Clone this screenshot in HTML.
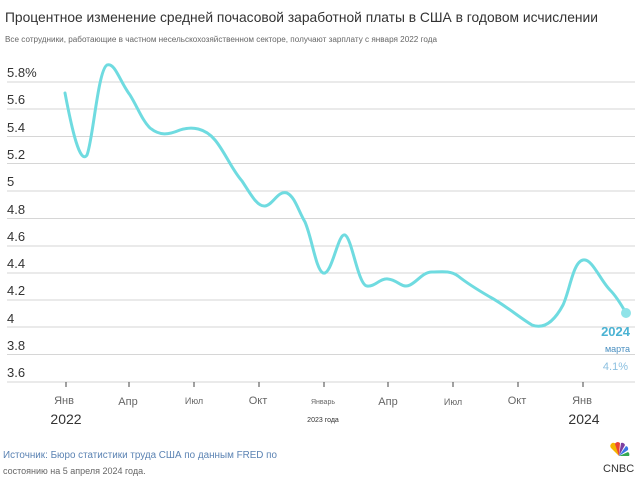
<!DOCTYPE html>
<html><head><meta charset="utf-8"><style>
body{margin:0;background:#fff;width:642px;height:489px;overflow:hidden;font-family:"Liberation Sans","DejaVu Sans",sans-serif}
</style></head><body>
<svg width="642" height="489" xmlns="http://www.w3.org/2000/svg" font-family="Liberation Sans, DejaVu Sans, sans-serif">
<text x="5" y="22" font-size="14" fill="#333" textLength="593" lengthAdjust="spacingAndGlyphs">Процентное изменение средней почасовой заработной платы в США в годовом исчислении</text>
<text x="5" y="42" font-size="8" fill="#666" textLength="432" lengthAdjust="spacingAndGlyphs">Все сотрудники, работающие в частном несельскохозяйственном секторе, получают зарплату с января 2022 года</text>
<g stroke="#d6d6d6" stroke-width="1">
<line x1="7" x2="635" y1="82" y2="82"/><line x1="7" x2="635" y1="109" y2="109"/>
<line x1="7" x2="635" y1="136.5" y2="136.5"/><line x1="7" x2="635" y1="163.5" y2="163.5"/>
<line x1="7" x2="635" y1="191" y2="191"/><line x1="7" x2="635" y1="218.5" y2="218.5"/>
<line x1="7" x2="635" y1="246" y2="246"/><line x1="7" x2="635" y1="273" y2="273"/>
<line x1="7" x2="635" y1="300" y2="300"/><line x1="7" x2="635" y1="327" y2="327"/>
<line x1="7" x2="635" y1="354.5" y2="354.5"/><line x1="7" x2="635" y1="382" y2="382"/>
</g>
<g font-size="13" fill="#333">
<text x="7" y="77">5.8%</text><text x="7" y="104">5.6</text><text x="7" y="132">5.4</text>
<text x="7" y="159">5.2</text><text x="7" y="186">5</text><text x="7" y="214">4.8</text>
<text x="7" y="241">4.6</text><text x="7" y="268">4.4</text><text x="7" y="295">4.2</text>
<text x="7" y="323">4</text><text x="7" y="350">3.8</text><text x="7" y="377">3.6</text>
</g>
<g stroke="#444" stroke-width="1">
<line x1="66" x2="66" y1="382" y2="387"/><line x1="129" x2="129" y1="382" y2="387"/>
<line x1="194" x2="194" y1="382" y2="387"/><line x1="259" x2="259" y1="382" y2="387"/>
<line x1="324" x2="324" y1="382" y2="387"/><line x1="388" x2="388" y1="382" y2="387"/>
<line x1="453" x2="453" y1="382" y2="387"/><line x1="518" x2="518" y1="382" y2="387"/>
<line x1="583" x2="583" y1="382" y2="387"/>
</g>
<g fill="#666" font-size="11" text-anchor="middle">
<text x="64" y="404">Янв</text><text x="128" y="405">Апр</text><text x="194" y="404" font-size="9">Июл</text>
<text x="258" y="404">Окт</text><text x="323" y="404" font-size="7">Январь</text><text x="388" y="405">Апр</text>
<text x="453" y="405" font-size="9">Июл</text><text x="517" y="404">Окт</text><text x="582" y="404">Янв</text>
</g>
<text x="66" y="424" font-size="14" fill="#333" text-anchor="middle">2022</text>
<text x="323" y="422" font-size="7" fill="#333" text-anchor="middle">2023 года</text>
<text x="584" y="424" font-size="14" fill="#333" text-anchor="middle">2024</text>
<path d="M65,93 C72,130 80,165 87,155 C93,140 98,70 107,65 C115,62 120,82 130,95 C138,108 142,120 150,128 C160,136 168,135 180,130 C192,126 205,128 215,140 C225,152 232,170 242,181 C250,193 257,207 265,206 C273,205 278,190 287,193 C295,197 298,210 305,222 C312,238 316,270 323,273 C332,276 338,232 345,235 C352,238 358,285 367,286 C375,287 380,278 388,279 C398,280 402,289 410,285 C418,281 423,272 432,272 C440,272 450,270 458,276 C468,284 478,290 490,297 C505,305 520,318 532,325 C545,330 555,320 563,305 C570,290 573,262 583,260 C592,258 600,280 610,290 C617,297 622,306 626,313" fill="none" stroke="#6fdbe0" stroke-width="3" stroke-linecap="round"/>
<circle cx="626" cy="313" r="5" fill="#8fe3e8"/>
<text x="630" y="336" font-size="13" font-weight="bold" fill="#4bb3d3" text-anchor="end">2024</text>
<text x="630" y="352" font-size="9" fill="#4a8fc0" text-anchor="end">марта</text>
<text x="628" y="370" font-size="11" fill="#8cc0e0" text-anchor="end">4.1%</text>
<text x="3" y="458" font-size="10" fill="#5b83b3" textLength="274" lengthAdjust="spacingAndGlyphs">Источник: Бюро статистики труда США по данным FRED по</text>
<text x="3" y="474" font-size="9" fill="#666">состоянию на 5 апреля 2024 года.</text>
<g transform="translate(619,456)">
<path d="M0,0 L-8,-8 A3,3 0 0 1 -3,-12 Z" fill="#f4b400"/>
<path d="M0,0 L-4,-12 A3,3 0 0 1 1,-13 Z" fill="#e94235"/>
<path d="M0,0 L2,-13 A3,3 0 0 1 6,-11 Z" fill="#7b3fa0"/>
<path d="M0,0 L7,-10 A3,3 0 0 1 9,-6 Z" fill="#3b78e7"/>
<path d="M0,0 L9,-4 A3,3 0 0 1 10,0 Z" fill="#34a853"/>
</g>
<text x="603" y="472" font-size="11" fill="#333">CNBC</text>
</svg>
</body></html>
